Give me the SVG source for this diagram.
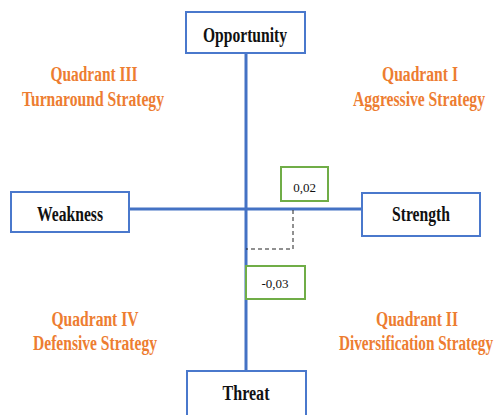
<svg xmlns="http://www.w3.org/2000/svg" width="497" height="415" viewBox="0 0 497 415">
<style>
.box{fill:#fff;stroke:#4a78cc;stroke-width:2}
.val{fill:#fff;stroke:#70ad47;stroke-width:2}
.axis{stroke:#4472c4;stroke-width:3;fill:none}
.dash{stroke:#222;stroke-width:1;stroke-dasharray:4 3;fill:none}
.lbl{font-family:"Liberation Serif",serif;font-weight:bold;font-size:20px;fill:#111;text-anchor:middle}
.q{font-family:"Liberation Serif",serif;font-weight:bold;font-size:20px;fill:#ed7d31;text-anchor:middle}
.num{font-family:"Liberation Serif",serif;font-size:13px;fill:#111;text-anchor:middle}
</style>
<rect width="497" height="415" fill="#fff"/>
<g id="connectors">
<line class="axis" x1="246" y1="53" x2="246" y2="371"/>
<line class="axis" x1="129" y1="209" x2="362" y2="209"/>
<polyline class="dash" points="293,210 293,249 246,249"/>
</g>
<g id="opportunity">
<rect class="box" x="186" y="12" width="119" height="41"/>
<text class="lbl" x="245" y="42" textLength="84" lengthAdjust="spacingAndGlyphs">Opportunity</text>
</g>
<g id="weakness">
<rect class="box" x="11" y="192" width="118" height="40"/>
<text class="lbl" x="70" y="221" textLength="66" lengthAdjust="spacingAndGlyphs">Weakness</text>
</g>
<g id="strength">
<rect class="box" x="362" y="193" width="118" height="43"/>
<text class="lbl" x="421" y="221" textLength="58" lengthAdjust="spacingAndGlyphs">Strength</text>
</g>
<g id="threat">
<rect class="box" x="187" y="371" width="119" height="50"/>
<text class="lbl" x="246" y="400" textLength="47" lengthAdjust="spacingAndGlyphs">Threat</text>
</g>
<g id="value-x">
<rect class="val" x="281" y="167" width="47" height="34"/>
<text class="num" x="304.5" y="192">0,02</text>
</g>
<g id="value-y">
<rect class="val" x="246" y="266" width="59" height="33"/>
<text class="num" x="275" y="288">-0,03</text>
</g>
<g id="quadrant-iii">
<text class="q" x="94" y="81" textLength="87" lengthAdjust="spacingAndGlyphs">Quadrant III</text>
<text class="q" x="93" y="106" textLength="142" lengthAdjust="spacingAndGlyphs">Turnaround Strategy</text>
</g>
<g id="quadrant-i">
<text class="q" x="420" y="81" textLength="76" lengthAdjust="spacingAndGlyphs">Quadrant I</text>
<text class="q" x="419" y="106" textLength="132" lengthAdjust="spacingAndGlyphs">Aggressive Strategy</text>
</g>
<g id="quadrant-iv">
<text class="q" x="95" y="326" textLength="87" lengthAdjust="spacingAndGlyphs">Quadrant IV</text>
<text class="q" x="95" y="350" textLength="124" lengthAdjust="spacingAndGlyphs">Defensive Strategy</text>
</g>
<g id="quadrant-ii">
<text class="q" x="417" y="326" textLength="82" lengthAdjust="spacingAndGlyphs">Quadrant II</text>
<text class="q" x="416" y="350" textLength="154" lengthAdjust="spacingAndGlyphs">Diversification Strategy</text>
</g>
</svg>
